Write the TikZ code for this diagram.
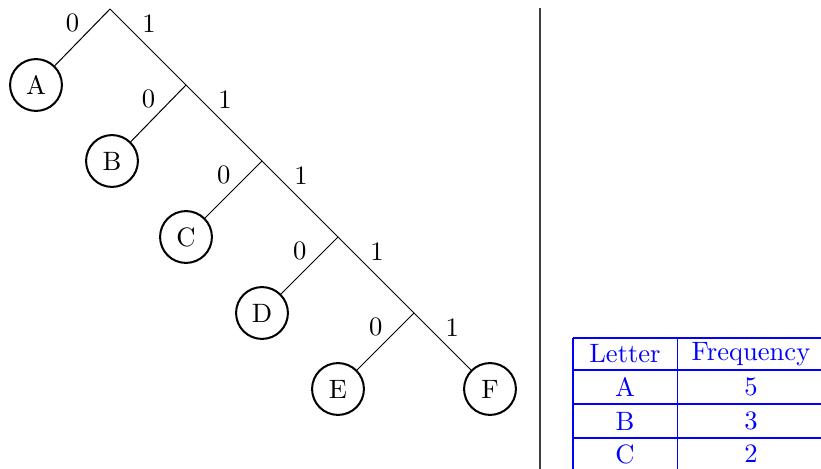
\documentclass[tikz,border=0pt]{standalone}
\usetikzlibrary{positioning}
\tikzset{
  every node/.style = {font=\fontsize{10.5}{12.6}\selectfont},
  leaf/.style = {circle, draw, thick, minimum size=0.72cm, inner sep=0},
  bit/.style  = {inner sep=1.5pt},
  cell/.style = {text=blue, inner sep=0},
  rule/.style = {blue},
  split/.style = {black!75}
}
\begin{document}
\begin{tikzpicture}[x=0.01389cm, y=-0.01389cm]
  \useasboundingbox (0,0) rectangle (821,469);

  % branching points
  \coordinate (n1) at (110,9);
  \coordinate (n2) at (186,85);
  \coordinate (n3) at (262,161);
  \coordinate (n4) at (338,237);
  \coordinate (n5) at (414,313);

  \node[leaf] (A) at (36,85)   {A};
  \node[leaf] (B) at (112,161) {B};
  \node[leaf] (C) at (186,237) {C};
  \node[leaf] (D) at (262,313) {D};
  \node[leaf] (E) at (338,389) {E};
  \node[leaf] (F) at (490,389) {F};

  \draw (n1) -- node[bit,pos=.48,above left]{0} (A);
  \draw (n1) -- node[bit,pos=.37,above right]{1} (n2);
  \draw (n2) -- node[bit,pos=.48,above left]{0} (B);
  \draw (n2) -- node[bit,pos=.37,above right]{1} (n3);
  \draw (n3) -- node[bit,pos=.48,above left]{0} (C);
  \draw (n3) -- node[bit,pos=.37,above right]{1} (n4);
  \draw (n4) -- node[bit,pos=.48,above left]{0} (D);
  \draw (n4) -- node[bit,pos=.37,above right]{1} (n5);
  \draw (n5) -- node[bit,pos=.48,above left]{0} (E);
  \draw (n5) -- node[bit,pos=.48,above right]{1} (F);

  % divider
  \coordinate (dtop) at (540,8);
  \coordinate (dbot) at (540,469);
  \draw[split] (dtop) -- (dbot);

  % frequency table
  \coordinate (t0) at (573,338); \coordinate (u0) at (821,338);
  \coordinate (t1) at (573,370); \coordinate (u1) at (821,370);
  \coordinate (t2) at (573,404); \coordinate (u2) at (821,404);
  \coordinate (t3) at (573,438); \coordinate (u3) at (821,438);
  \coordinate (tb) at (573,469);
  \coordinate (m0) at (677,338); \coordinate (mb) at (677,469);
  \draw[rule] (t0) -- (u0); \draw[rule] (t1) -- (u1);
  \draw[rule] (t2) -- (u2); \draw[rule] (t3) -- (u3);
  \draw[rule] (t0) -- (tb); \draw[rule] (m0) -- (mb);

  \node[cell] (hl) at (625,354) {Letter};
  \node[cell] (hf) at (751,354) {Frequency};
  \node[cell] (la) at (625,387) {A}; \node[cell] (fa) at (751,387) {5};
  \node[cell] (lb) at (625,421) {B}; \node[cell] (fb) at (751,421) {3};
  \node[cell] (lc) at (625,454) {C}; \node[cell] (fc) at (751,454) {2};
\end{tikzpicture}
\end{document}
